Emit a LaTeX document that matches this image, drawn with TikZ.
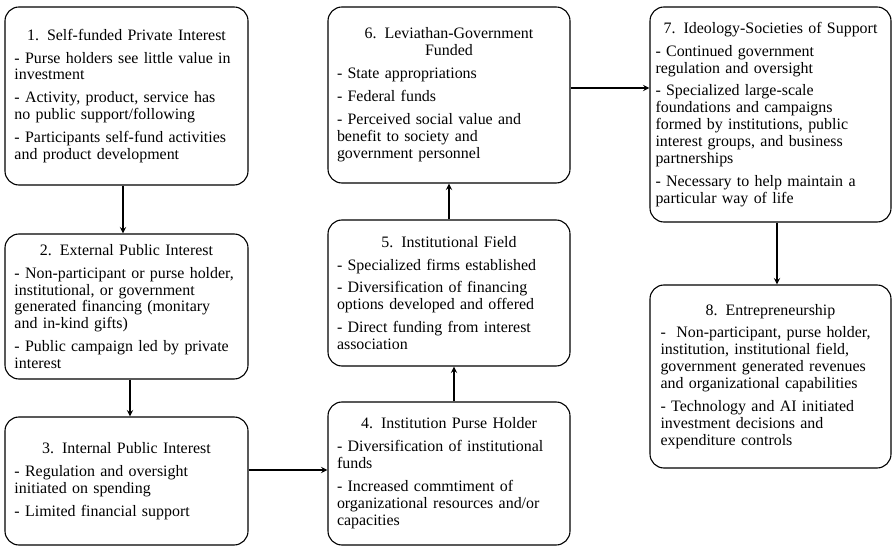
\documentclass[tikz,border=0pt]{standalone}
\usepackage{fontspec}
\setmainfont{Liberation Serif}
\usetikzlibrary{arrows}
\tikzstyle{stage} = [rectangle, rounded corners=14bp, draw=black, line width=1.1bp, inner sep=0pt, minimum width=243bp, text width=224bp, align=left, font=\fontsize{16}{17}\selectfont, execute at begin node={\setlength{\parskip}{6bp}}]
\tikzstyle{arrow} = [line width=1.8bp,->,>=stealth]

\begin{document}
\begin{tikzpicture}[x=1bp, y=-1bp]
        \useasboundingbox (0,0) rectangle (892,546);
        \node (self-funded) [stage, minimum height=178bp] at (126.5,96) {{\centering 1. Self-funded Private Interest\par}
            - Purse holders see little value in\\investment\par
            - Activity, product, service has\\no public support/following\par
            - Participants self-fund activities\\and product development};
        \node (external-public) [stage, minimum height=145bp] at (126.5,306.5) {{\centering 2. External Public Interest\par}
            - Non-participant or purse holder,\\institutional, or government\\generated financing (monitary\\and in-kind gifts)\par
            - Public campaign led by private\\interest};
        \node (internal-public) [stage, minimum height=128bp] at (126.5,481) {{\centering 3. Internal Public Interest\par}
            - Regulation and oversight\\initiated on spending\par
            - Limited financial support};
        \node (purse-holder) [stage, minimum width=242bp, minimum height=143bp] at (449,473.5) {{\centering 4. Institution Purse Holder\par}
            - Diversification of institutional\\funds\par
            - Increased commtiment of\\organizational resources and/or\\capacities};
        \node (institutional-field) [stage, minimum width=242bp, minimum height=146bp] at (449,293) {{\centering 5. Institutional Field\par}
            - Specialized firms established\par
            - Diversification of financing\\options developed and offered\par
            - Direct funding from interest\\association};
        \node (leviathan) [stage, minimum width=242bp, minimum height=176bp] at (449,95) {{\centering 6. Leviathan-Government\\Funded\par}
            - State appropriations\par
            - Federal funds\par
            - Perceived social value and\\benefit to society and\\government personnel};
        \node (societies) [stage, minimum width=241bp, minimum height=215bp, text width=230bp] at (770.5,114.5) {{\centering 7. Ideology-Societies of Support\par}
            - Continued government\\regulation and oversight\par
            - Specialized large-scale\\foundations and campaigns\\formed by institutions, public\\interest groups, and business\\partnerships\par
            - Necessary to help maintain a\\particular way of life};
        \node (entrepreneurship) [stage, minimum width=241bp, minimum height=183bp, text width=220bp] at (770.5,376.5) {{\centering 8. Entrepreneurship\par}
            -\ \ Non-participant, purse holder,\\institution, institutional field,\\government generated revenues\\and organizational capabilities\par
            - Technology and AI initiated\\investment decisions and\\expenditure controls};

        \draw [arrow] ([xshift=-3.5bp]self-funded.south) -- ([xshift=-3.5bp]external-public.north);
        \draw [arrow] ([xshift=3.5bp]external-public.south) -- ([xshift=3.5bp]internal-public.north);
        \draw [arrow] ([yshift=3.5bp]internal-public.east |- purse-holder) -- ([yshift=3.5bp]purse-holder.west);
        \draw [arrow] ([xshift=5bp]purse-holder.north) -- ([xshift=5bp]institutional-field.south);
        \draw [arrow] (institutional-field) -- (leviathan);
        \draw [arrow] ([yshift=7bp]leviathan.east) -- ([yshift=7bp]leviathan.east -| societies.west);
        \draw [arrow] ([xshift=6.5bp]societies.south) -- ([xshift=6.5bp]entrepreneurship.north);
    \end{tikzpicture}
\end{document}
